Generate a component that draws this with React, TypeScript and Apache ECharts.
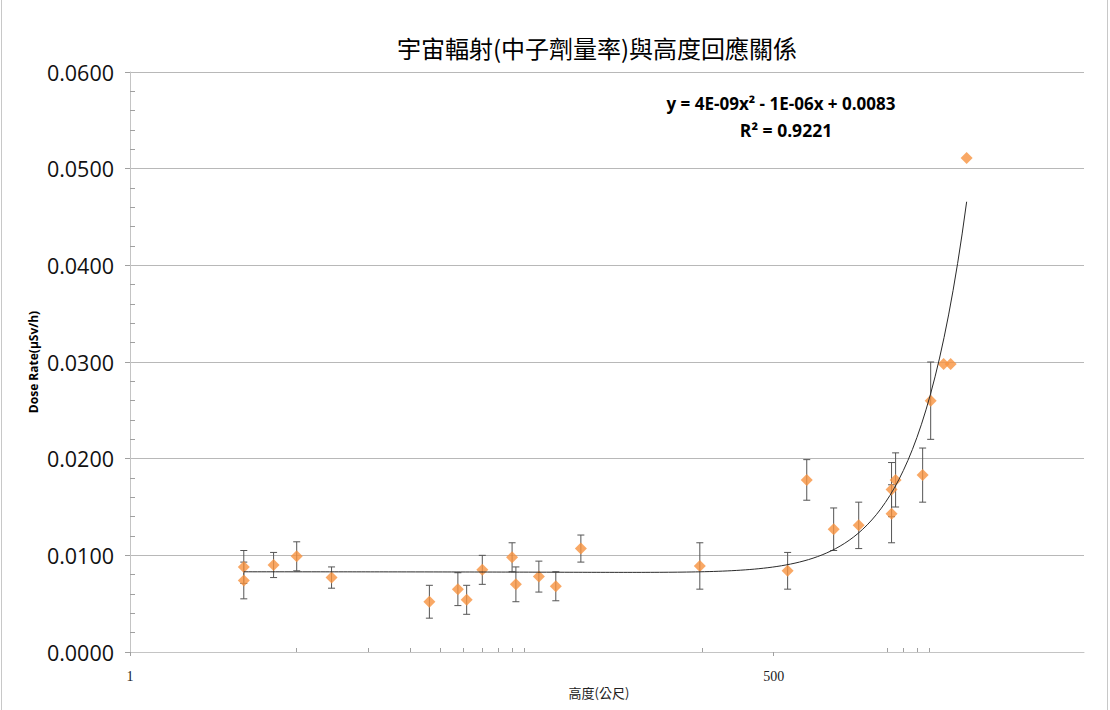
import React, { useEffect, useRef } from "react";
import * as echarts from "echarts";

const TITLE = "宇宙輻射(中子劑量率)與高度回應關係";
const X_NAME = "高度(公尺)";
const Y_NAME = "Dose Rate(µSv/h)";
const EQUATION = "y = 4E-09x² - 1E-06x + 0.0083";
const R_SQUARED = "R² = 0.9221";

// measured points: altitude (m), dose rate (µSv/h), error bar half-height
const altitude = [3, 3, 4, 5, 7, 18, 23.7, 25.8, 30, 40, 41.5, 51.8, 61, 77.7, 245, 572, 688, 892, 1136, 1560, 1560, 1622, 2106, 2276, 2579, 2760, 3221];
const doseRate = [0.0088, 0.0074, 0.009, 0.0099, 0.0077, 0.0052, 0.0065, 0.0054, 0.0085, 0.0098, 0.007, 0.0078, 0.0068, 0.0107, 0.0089, 0.0084, 0.0178, 0.0127, 0.0131, 0.0168, 0.0143, 0.0178, 0.0183, 0.026, 0.0298, 0.0298, 0.0511];
const doseError = [0.0017, 0.0019, 0.0013, 0.0015, 0.0011, 0.0017, 0.0017, 0.0015, 0.0015, 0.0015, 0.0018, 0.0016, 0.0015, 0.0014, 0.0024, 0.0019, 0.0021, 0.0022, 0.0024, 0.0028, 0.003, 0.0028, 0.0028, 0.004, 0, 0, 0];

// polynomial trendline coefficients shown on the chart: a x² + b x + c
const trendCoeffs = [4e-9, -1e-6, 0.0083];

const xMajorTicks = [1, 500];
const xMinorTicks = [5, 10, 15, 20, 25, 30, 35, 40, 45, 250, 1500, 1750, 2000, 2250];
const X_MIN = 1;
const X_MAX = 10000;
const Y_MIN = 0;
const Y_MAX = 0.06;
const Y_STEP = 0.01;

function buildTrend(): number[][] {
  const lo = Math.min(...altitude);
  const hi = Math.max(...altitude);
  const n = 160;
  const pts: number[][] = [];
  for (let i = 0; i <= n; i++) {
    const x = Math.exp(Math.log(lo) + ((Math.log(hi) - Math.log(lo)) * i) / n);
    const y = trendCoeffs[0] * x * x + trendCoeffs[1] * x + trendCoeffs[2];
    pts.push([x, y]);
  }
  return pts;
}

export default function App() {
  const ref = useRef<HTMLDivElement>(null);

  useEffect(() => {
    document.body.style.margin = "0";
    if (!ref.current) return;
    const chart = echarts.init(ref.current, undefined, { renderer: "svg" });
    const pointData = altitude.map((x, i) => [x, doseRate[i], doseError[i]]);

    const option: any = {
      animation: false,
      backgroundColor: "#ffffff",
      grid: { left: 130, right: 26, top: 72, bottom: 58, containLabel: false },
      xAxis: [
        {
          type: "log",
          logBase: 500,
          min: X_MIN,
          max: X_MAX,
          position: "bottom",
          axisLine: { show: true, onZero: false, lineStyle: { color: "#c4c4c4", width: 1 } },
          axisTick: { show: true, inside: false, length: 4, customValues: xMajorTicks, lineStyle: { color: "#a0a0a0" } },
          axisLabel: {
            show: true,
            customValues: xMajorTicks,
            formatter: (v: number) => String(Math.round(v)),
            fontFamily: "Liberation Serif",
            fontSize: 14,
            color: "#222",
            margin: 17,
          },
          splitLine: { show: false },
          minorTick: { show: false },
        },
        {
          type: "log",
          logBase: 500,
          min: X_MIN,
          max: X_MAX,
          position: "bottom",
          axisLine: { show: false, onZero: false },
          axisTick: { show: true, inside: true, length: 4, customValues: xMinorTicks, lineStyle: { color: "#a0a0a0" } },
          axisLabel: { show: false },
          splitLine: { show: false },
        },
      ],
      yAxis: {
        type: "value",
        min: Y_MIN,
        max: Y_MAX,
        interval: Y_STEP,
        axisLine: { show: true, onZero: false, lineStyle: { color: "#c4c4c4", width: 1 } },
        axisTick: { show: true, inside: false, length: 5, lineStyle: { color: "#a0a0a0" } },
        minorTick: { show: true, splitNumber: 5, length: -5, lineStyle: { color: "#a0a0a0" } },
        axisLabel: {
          formatter: (v: number) => v.toFixed(4),
          fontFamily: "Open Sans",
          fontSize: 21.5,
          color: "#111",
          margin: 16,
        },
        splitLine: { show: true, lineStyle: { color: "#b8b8b8", width: 1 } },
      },
      graphic: [
        {
          type: "text",
          x: 597,
          y: 47,
          style: {
            text: TITLE,
            font: "normal 24px 'Noto Sans CJK TC'",
            fill: "#000",
            textAlign: "center",
            textVerticalAlign: "middle",
          },
        },
        {
          type: "text",
          x: 781,
          y: 103,
          style: {
            text: EQUATION,
            font: "bold 17px 'Open Sans'",
            fill: "#000",
            textAlign: "center",
            textVerticalAlign: "middle",
          },
        },
        {
          type: "text",
          x: 786,
          y: 130,
          style: {
            text: R_SQUARED,
            font: "bold 17.5px 'Open Sans'",
            fill: "#000",
            textAlign: "center",
            textVerticalAlign: "middle",
          },
        },
        {
          type: "text",
          x: 33,
          y: 362,
          rotation: Math.PI / 2,
          style: {
            text: Y_NAME,
            font: "bold 12px 'Open Sans'",
            fill: "#000",
            textAlign: "center",
            textVerticalAlign: "middle",
          },
        },
        {
          type: "text",
          x: 599,
          y: 692,
          style: {
            text: X_NAME,
            font: "normal 13px 'Noto Sans CJK TC'",
            fill: "#222",
            textAlign: "center",
            textVerticalAlign: "middle",
          },
        },
        {
          type: "line",
          shape: { x1: 1.5, y1: 0, x2: 1.5, y2: 710 },
          style: { stroke: "#c8c8c8", lineWidth: 1 },
        },
        {
          type: "line",
          shape: { x1: 1107.5, y1: 0, x2: 1107.5, y2: 710 },
          style: { stroke: "#c8c8c8", lineWidth: 1 },
        },
      ],
      series: [
        {
          type: "custom",
          name: "error",
          xAxisIndex: 0,
          yAxisIndex: 0,
          z: 2,
          dimensions: ["x", "y", "err"],
          encode: { x: 0, y: 1 },
          data: pointData,
          renderItem: (params: any, api: any) => {
            const x = api.value(0);
            const y = api.value(1);
            const e = api.value(2);
            if (!e) return { type: "group", children: [] };
            const top = api.coord([x, y + e]);
            const bot = api.coord([x, y - e]);
            const cap = 3.5;
            const st = { stroke: "#555555", lineWidth: 1 };
            return {
              type: "group",
              children: [
                { type: "line", shape: { x1: top[0], y1: top[1], x2: bot[0], y2: bot[1] }, style: st },
                { type: "line", shape: { x1: top[0] - cap, y1: top[1], x2: top[0] + cap, y2: top[1] }, style: st },
                { type: "line", shape: { x1: bot[0] - cap, y1: bot[1], x2: bot[0] + cap, y2: bot[1] }, style: st },
              ],
            };
          },
        },
        {
          type: "scatter",
          name: "dose",
          xAxisIndex: 0,
          yAxisIndex: 0,
          z: 3,
          symbol: "diamond",
          symbolSize: [12, 12],
          itemStyle: { color: "#F7923F" },
          data: pointData.map((d) => [d[0], d[1]]),
        },
        {
          type: "line",
          name: "trend",
          xAxisIndex: 0,
          yAxisIndex: 0,
          z: 4,
          showSymbol: false,
          symbol: "none",
          smooth: false,
          lineStyle: { color: "#2a2a2a", width: 1 },
          data: buildTrend(),
        },
      ],
    };

    chart.setOption(option);
    return () => chart.dispose();
  }, []);

  return <div ref={ref} style={{ width: 1110, height: 710 }} />;
}
